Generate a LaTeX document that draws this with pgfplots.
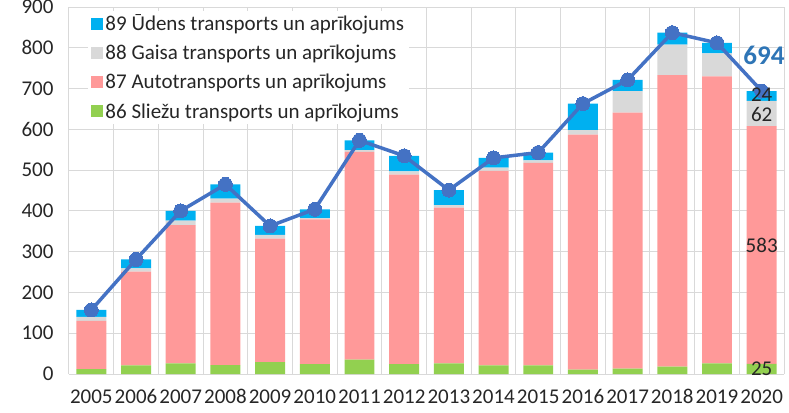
\documentclass[border=0pt]{standalone}
\usepackage{fontspec}
\setmainfont{Carlito}
\usepackage{pgfplots}
\pgfplotsset{compat=1.18}
\definecolor{cgreen}{HTML}{92D050}
\definecolor{cpink}{HTML}{FF9999}
\definecolor{cgrey}{HTML}{D9D9D9}
\definecolor{cblue}{HTML}{00B0F0}
\definecolor{lineblue}{HTML}{4472C4}
\definecolor{gridc}{HTML}{D9D9D9}
\definecolor{txt}{HTML}{262626}
\definecolor{lblblue}{HTML}{2E75B6}
\begin{document}
\begin{tikzpicture}
\path[use as bounding box] (-69bp,-39bp) rectangle (720bp,374bp);
\begin{axis}[
  at={(0,0)}, anchor=south west,
  scale only axis, width=715bp, height=367bp,
  ybar stacked, bar width=0.67,
  xmin=-0.5, xmax=15.5, ymin=0, ymax=900,
  xtick={0,...,15},
  xticklabels={2005,2006,2007,2008,2009,2010,2011,2012,2013,2014,2015,2016,2017,2018,2019,2020},
  ytick={0,100,...,900},
  minor xtick={-0.5,0.5,...,15.5},
  xminorgrids, ymajorgrids,
  grid style={draw=gridc, line width=1bp},
  minor grid style={draw=gridc, line width=1bp},
  major tick length=0, minor tick length=0,
  axis x line*=bottom, axis y line*=left,
  x axis line style={draw=gridc, line width=1bp, -},
  y axis line style={draw=none},
  tick label style={font=\fontsize{21bp}{25bp}\selectfont, text=txt},
  /pgf/number format/assume math mode=true,
  yticklabel style={xshift=-12bp},
  xticklabel style={yshift=-12bp},
  legend style={at={(0.027,0.99)}, anchor=north west, draw=none, fill=white,
    font=\fontsize{21bp}{25bp}\selectfont, text=txt, row sep=9bp},
  legend cell align=left,
  legend image code/.code={\fill[#1] (0bp,-6bp) rectangle (12bp,6bp);},
  reverse legend,
]
\addplot[fill=cgreen, draw=none] coordinates {(0,12) (1,21) (2,26) (3,22) (4,29) (5,24) (6,35) (7,24) (8,26) (9,21) (10,21) (11,11) (12,13) (13,18) (14,26) (15,25)};
\addlegendentry{86 Sliežu transports un aprīkojums}
\addplot[fill=cpink, draw=none] coordinates {(0,118) (1,230) (2,339) (3,398) (4,303) (5,355) (6,510) (7,465) (8,382) (9,477) (10,497) (11,576) (12,628) (13,715) (14,704) (15,583)};
\addlegendentry{87 Autotransports un aprīkojums}
\addplot[fill=cgrey, draw=none] coordinates {(0,10) (1,8) (2,11) (3,10) (4,9) (5,3) (6,4) (7,8) (8,6) (9,8) (10,6) (11,11) (12,53) (13,75) (14,56) (15,62)};
\addlegendentry{88 Gaisa transports un aprīkojums}
\addplot[fill=cblue, draw=none] coordinates {(0,17) (1,22) (2,24) (3,35) (4,22) (5,22) (6,24) (7,38) (8,37) (9,24) (10,19) (11,65) (12,27) (13,29) (14,26) (15,24)};
\addlegendentry{89 Ūdens transports un aprīkojums}
\end{axis}
\begin{axis}[
  at={(0,0)}, anchor=south west,
  scale only axis, width=715bp, height=367bp,
  xmin=-0.5, xmax=15.5, ymin=0, ymax=900,
  hide axis, clip=false,
]
\addplot[color=lineblue, line width=3.5bp, mark=*, mark size=7bp, mark options={fill=lineblue, draw=lineblue, line width=0bp}] coordinates {(0,157) (1,281) (2,400) (3,465) (4,363) (5,404) (6,573) (7,535) (8,451) (9,530) (10,543) (11,663) (12,721) (13,837) (14,812) (15,694)};
\end{axis}
\begin{axis}[
  at={(0,0)}, anchor=south west,
  scale only axis, width=715bp, height=367bp,
  xmin=-0.5, xmax=15.5, ymin=0, ymax=900,
  hide axis, clip=false,
]
\node[inner sep=0pt, font=\fontsize{21bp}{25bp}\selectfont, text=txt] at (axis cs:15,12.5) {25};
\node[inner sep=0pt, font=\fontsize{21bp}{25bp}\selectfont, text=txt] at (axis cs:15,316.5) {583};
\node[inner sep=0pt, font=\fontsize{21bp}{25bp}\selectfont, text=txt] at (axis cs:15,637) {62};
\node[inner sep=0pt, font=\fontsize{21bp}{25bp}\selectfont, text=txt] at (axis cs:15,684) {24};
\node[inner sep=0pt, font=\bfseries\fontsize{27bp}{31bp}\selectfont, text=lblblue] at (axis cs:15.05,782) {694};
\end{axis}
\end{tikzpicture}
\end{document}
